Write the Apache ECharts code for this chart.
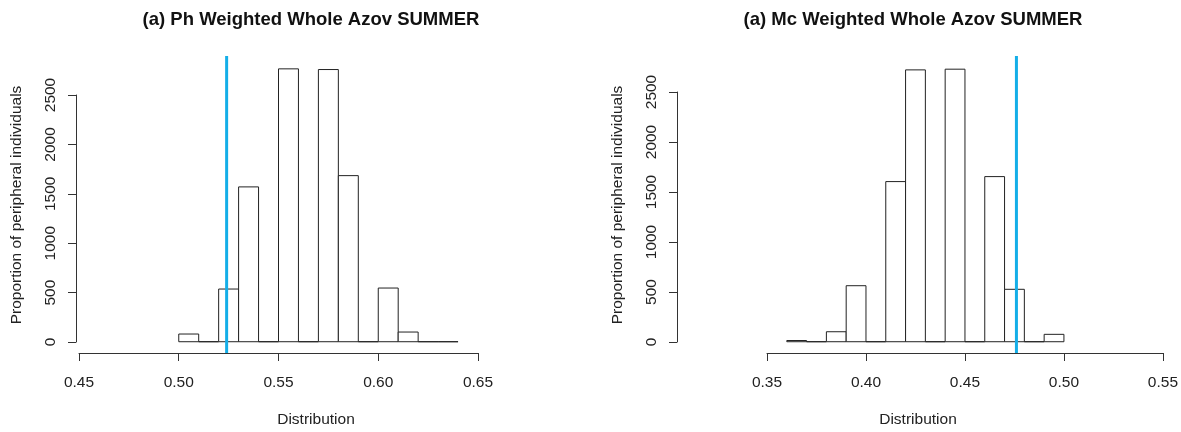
<!DOCTYPE html>
<html>
<head>
<meta charset="utf-8">
<script src="https://cdn.jsdelivr.net/npm/echarts@6/dist/echarts.min.js"></script>
<style>
  html, body { margin: 0; background: #fff; }
  #main { width: 1181px; height: 432px; }
</style>
</head>
<body>
<div id="main"></div>
<script>
// histogram bins (start, end) and counts
const phBinStart = [0.50, 0.51, 0.52, 0.53, 0.54, 0.55, 0.56, 0.57, 0.58, 0.59, 0.60, 0.61, 0.62, 0.63];
const phBinEnd   = [0.51, 0.52, 0.53, 0.54, 0.55, 0.56, 0.57, 0.58, 0.59, 0.60, 0.61, 0.62, 0.63, 0.64];
const phCounts   = [78, 0, 533, 1566, 0, 2760, 0, 2753, 1680, 0, 543, 98, 0, 0];
const phMarker = 0.524;

const mcBinStart = [0.36, 0.37, 0.38, 0.39, 0.40, 0.41, 0.42, 0.43, 0.44, 0.45, 0.46, 0.47, 0.48, 0.49];
const mcBinEnd   = [0.37, 0.38, 0.39, 0.40, 0.41, 0.42, 0.43, 0.44, 0.45, 0.46, 0.47, 0.48, 0.49, 0.50];
const mcCounts   = [12, 0, 100, 561, 0, 1604, 2723, 0, 2730, 0, 1654, 525, 0, 74];
const mcMarker = 0.476;

const phTicks = [0.45, 0.50, 0.55, 0.60, 0.65];
const mcTicks = [0.35, 0.40, 0.45, 0.50, 0.55];

const FONT = 'Liberation Sans, Arial, sans-serif';
const AXIS_COLOR = '#333';
const LABEL_COLOR = '#222';
const BLUE = '#14aee8';

function binData(starts, ends, counts) {
  return counts.map((c, i) => [starts[i], ends[i], c]);
}

function renderBin(params, api) {
  const top = api.coord([api.value(0), api.value(2)]);
  const base = api.coord([api.value(1), 0]);
  return {
    type: 'rect',
    shape: { x: top[0], y: top[1], width: base[0] - top[0], height: base[1] - top[1] },
    style: { fill: '#fff', stroke: '#222', lineWidth: 1 }
  };
}

function dataX(gridIndex, min, max, ticks) {
  return {
    type: 'value', gridIndex, min, max,
    axisLine: { show: true, onZero: false, lineStyle: { color: AXIS_COLOR, width: 1 } },
    axisTick: { show: true, length: 8, customValues: ticks, lineStyle: { color: AXIS_COLOR } },
    axisLabel: {
      customValues: ticks, margin: 22, color: LABEL_COLOR,
      fontFamily: FONT, fontSize: 15.5,
      formatter: v => v.toFixed(2)
    },
    splitLine: { show: false }
  };
}

function hiddenAxis(type, gridIndex, min, max) {
  return {
    type, gridIndex, min, max, show: false,
    splitLine: { show: false }
  };
}

function displayY(gridIndex) {
  return {
    type: 'value', gridIndex, min: 0, max: 2500, interval: 500,
    axisLine: { show: true, lineStyle: { color: AXIS_COLOR, width: 1 } },
    axisTick: { show: true, length: 8, lineStyle: { color: AXIS_COLOR } },
    axisLabel: {
      rotate: 90, margin: 17, color: LABEL_COLOR,
      fontFamily: FONT, fontSize: 15.5,
      formatter: v => String(v)
    },
    splitLine: { show: false }
  };
}

const chart = echarts.init(document.getElementById('main'), null, { renderer: 'canvas' });

chart.setOption({
  animation: false,
  backgroundColor: '#fff',
  grid: [
    // left data area
    { left: 79, width: 399, top: 56, height: 297 },
    // left y axis (0..2500)
    { left: 76, width: 400, top: 95, height: 247 },
    // right data area
    { left: 767, width: 399, top: 56, height: 297 },
    // right y axis (0..2500)
    { left: 677, width: 400, top: 92, height: 250 }
  ],
  xAxis: [
    dataX(0, 0.45, 0.65, phTicks),
    hiddenAxis('value', 1, 0, 1),
    dataX(2, 0.35, 0.55, mcTicks),
    hiddenAxis('value', 3, 0, 1)
  ],
  yAxis: [
    hiddenAxis('value', 0, -114, 2890),
    displayY(1),
    hiddenAxis('value', 2, -113, 2862),
    displayY(3)
  ],
  series: [
    {
      type: 'custom', xAxisIndex: 0, yAxisIndex: 0,
      renderItem: renderBin, data: binData(phBinStart, phBinEnd, phCounts)
    },
    {
      type: 'line', xAxisIndex: 0, yAxisIndex: 0, symbol: 'none',
      lineStyle: { color: BLUE, width: 3 },
      data: [[phMarker, -114], [phMarker, 2890]]
    },
    {
      type: 'custom', xAxisIndex: 2, yAxisIndex: 2,
      renderItem: renderBin, data: binData(mcBinStart, mcBinEnd, mcCounts)
    },
    {
      type: 'line', xAxisIndex: 2, yAxisIndex: 2, symbol: 'none',
      lineStyle: { color: BLUE, width: 3 },
      data: [[mcMarker, -113], [mcMarker, 2862]]
    }
  ],
  graphic: [
    { type: 'text', x: 311, y: 20, style: { text: '(a) Ph Weighted Whole Azov SUMMER', font: 'bold 18.5px ' + FONT, fill: '#111', align: 'center', verticalAlign: 'middle' } },
    { type: 'text', x: 913, y: 20, style: { text: '(a) Mc Weighted Whole Azov SUMMER', font: 'bold 18.5px ' + FONT, fill: '#111', align: 'center', verticalAlign: 'middle' } },
    { type: 'text', x: 316, y: 420, style: { text: 'Distribution', font: '15.5px ' + FONT, fill: LABEL_COLOR, align: 'center', verticalAlign: 'middle' } },
    { type: 'text', x: 918, y: 420, style: { text: 'Distribution', font: '15.5px ' + FONT, fill: LABEL_COLOR, align: 'center', verticalAlign: 'middle' } },
    { type: 'text', x: 17, y: 205, rotation: Math.PI / 2, style: { text: 'Proportion of peripheral individuals', font: '15.5px ' + FONT, fill: LABEL_COLOR, align: 'center', verticalAlign: 'middle' } },
    { type: 'text', x: 618, y: 205, rotation: Math.PI / 2, style: { text: 'Proportion of peripheral individuals', font: '15.5px ' + FONT, fill: LABEL_COLOR, align: 'center', verticalAlign: 'middle' } }
  ]
});
</script>
</body>
</html>
